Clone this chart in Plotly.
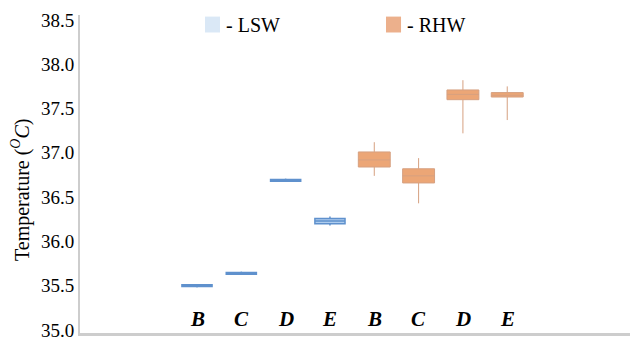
import plotly.graph_objects as go

# ---- data ----
conditions = ["B", "C", "D", "E"]
lsw_cats = ["LSW-B", "LSW-C", "LSW-D", "LSW-E"]
rhw_cats = ["RHW-B", "RHW-C", "RHW-D", "RHW-E"]

lsw_low = [35.48, 35.62, 36.67, 36.18]
lsw_q1 = [35.49, 35.63, 36.68, 36.20]
lsw_med = [35.50, 35.64, 36.69, 36.23]
lsw_q3 = [35.51, 35.65, 36.70, 36.26]
lsw_high = [35.52, 35.66, 36.71, 36.28]

rhw_low = [36.74, 36.43, 37.22, 37.37]
rhw_q1 = [36.84, 36.66, 37.60, 37.63]
rhw_med = [36.92, 36.74, 37.66, 37.65]
rhw_q3 = [37.01, 36.82, 37.71, 37.68]
rhw_high = [37.12, 36.94, 37.82, 37.75]

y_ticks = [35.0, 35.5, 36.0, 36.5, 37.0, 37.5, 38.0, 38.5]
y_title = "Temperature (<sup><i>O</i></sup><i>C</i>)"
legend_names = ["- LSW", "- RHW"]
legend_colors = ["rgb(218,232,246)", "rgb(236,176,140)"]

SERIF = "Times New Roman"

fig = go.Figure()
fig.add_trace(go.Box(
    x=lsw_cats, q1=lsw_q1, median=lsw_med, q3=lsw_q3,
    lowerfence=lsw_low, upperfence=lsw_high,
    width=0.68, whiskerwidth=0,
    fillcolor="rgb(175,205,238)", line=dict(color="rgb(95,145,205)", width=1.5),
    showlegend=False, name="LSW",
))
fig.add_trace(go.Box(
    x=rhw_cats, q1=rhw_q1, median=rhw_med, q3=rhw_q3,
    lowerfence=rhw_low, upperfence=rhw_high,
    width=0.72, whiskerwidth=0,
    fillcolor="rgb(236,166,118)", line=dict(color="rgb(214,160,128)", width=1),
    showlegend=False, name="RHW",
))

# category labels inside the plot, just above the x axis
for cat, lab in zip(lsw_cats + rhw_cats, conditions + conditions):
    fig.add_annotation(xref="x", yref="paper", x=cat, y=0.045,
                       xanchor="center", yanchor="middle", showarrow=False,
                       text=f"<b><i>{lab}</i></b>",
                       font=dict(family=SERIF, size=21, color="black"))

# y-axis title as rotated annotation
fig.add_annotation(xref="paper", yref="paper", x=-0.107, y=0.45,
                   xanchor="center", yanchor="middle", showarrow=False,
                   textangle=-90, text=y_title,
                   font=dict(family=SERIF, size=20, color="black"))

# manual legend (squares + text) in paper coords
leg_x = [0.2273, 0.5564]
for lx, nm, col in zip(leg_x, legend_names, legend_colors):
    fig.add_shape(type="rect", xref="paper", yref="paper",
                  x0=lx, x1=lx + 0.0273, y0=0.945, y1=0.995,
                  fillcolor=col, line=dict(width=0))
    fig.add_annotation(xref="paper", yref="paper", x=lx + 0.035, y=0.968,
                       xanchor="left", yanchor="middle", showarrow=False,
                       text=nm, font=dict(family=SERIF, size=20, color="black"))

fig.update_layout(
    width=635, height=340,
    margin=dict(l=80, r=5, t=15, b=7, autoexpand=False),
    paper_bgcolor="white", plot_bgcolor="white",
    font=dict(family=SERIF, size=19, color="black"),
    boxmode="overlay",
    showlegend=False,
    xaxis=dict(
        categoryorder="array", categoryarray=lsw_cats + rhw_cats,
        range=[-2.64, 9.77], automargin=False,
        showticklabels=False, ticks="",
        showline=True, linecolor="rgb(205,205,205)", linewidth=3,
        showgrid=False, zeroline=False,
    ),
    yaxis=dict(
        range=[34.966, 38.556], automargin=False,
        tickvals=y_ticks, ticktext=[f"{v:.1f}" for v in y_ticks],
        ticklabeloverflow="allow",
        ticks="", showline=True, linecolor="rgb(205,205,205)", linewidth=2,
        showgrid=False, zeroline=False,
        tickfont=dict(family=SERIF, size=19, color="black"),
    ),
)

fig.write_html("out.html")
